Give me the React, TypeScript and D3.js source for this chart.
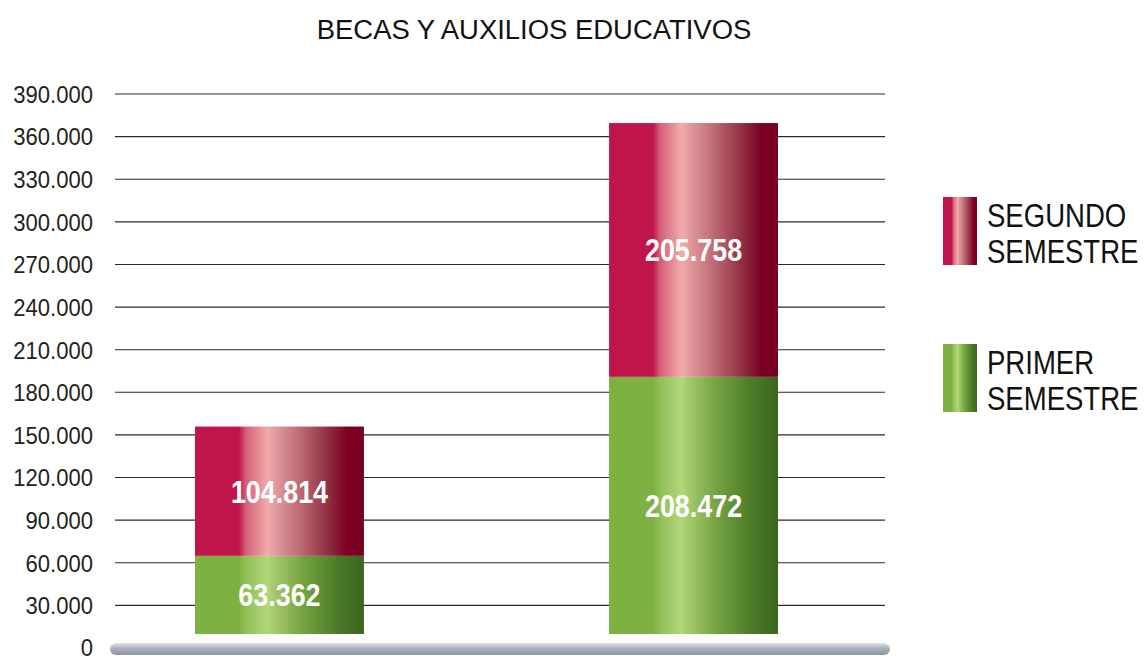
import React, { useEffect, useRef } from "react";
import * as d3 from "d3";

// ===== Data =====
const categories = ["Grupo 1", "Grupo 2"];
const primerSemestre = [63362, 208472];
const segundoSemestre = [104814, 205758];
const yTicks = [0, 30000, 60000, 90000, 120000, 150000, 180000, 210000, 240000, 270000, 300000, 330000, 360000, 390000];
const title = "BECAS Y AUXILIOS EDUCATIVOS";
const legendItems = [
  { key: "segundo", lines: ["SEGUNDO", "SEMESTRE"] },
  { key: "primer", lines: ["PRIMER", "SEMESTRE"] },
];

const redStops = [
  [0, "#c0154a"], [0.26, "#c0154a"], [0.3, "#d35f78"], [0.43, "#f2abab"],
  [0.47, "#e39c9f"], [0.62, "#bd6b74"], [0.8, "#8e2a3e"], [0.9, "#7a0024"], [1, "#780022"],
];
const greenStops = [
  [0, "#7db141"], [0.26, "#7db141"], [0.3, "#90bf56"], [0.43, "#b2d67b"],
  [0.47, "#a3c96c"], [0.65, "#72a03e"], [0.85, "#4a7a28"], [1, "#3a6520"],
];

const FONT = "'Liberation Sans', Arial, Helvetica, sans-serif";
const locale = d3.formatLocale({ decimal: ",", thousands: ".", grouping: [3], currency: ["$", ""] });
const fmt = locale.format(",d");

const App = () => {
  const ref = useRef<SVGSVGElement | null>(null);

  useEffect(() => {
    if (!ref.current) return;
    const svg = d3.select(ref.current);
    svg.selectAll("*").remove();

    // back wall scale (gridlines) and front plane scale (bars)
    const yBack = d3.scaleLinear().domain([0, 390000]).range([648, 94]);
    const yFront = d3.scaleLinear().domain([0, 400000]).range([634, 140.6]);
    const x = d3
      .scaleBand()
      .domain(categories)
      .range([72, 901])
      .paddingInner(0.592)
      .paddingOuter(0.297);

    const defs = svg.append("defs");
    const grad = (id: string, stops: (string | number)[][]) => {
      const g = defs.append("linearGradient").attr("id", id).attr("x1", 0).attr("x2", 1).attr("y1", 0).attr("y2", 0);
      stops.forEach(([o, c]) => g.append("stop").attr("offset", o as number).attr("stop-color", c as string));
    };
    grad("gRed", redStops);
    grad("gGreen", greenStops);
    const floor = defs.append("linearGradient").attr("id", "gFloor").attr("x1", 0).attr("x2", 0).attr("y1", 0).attr("y2", 1);
    floor.append("stop").attr("offset", 0).attr("stop-color", "#dfe2e8");
    floor.append("stop").attr("offset", 0.45).attr("stop-color", "#aab1be");
    floor.append("stop").attr("offset", 1).attr("stop-color", "#8c94a3");

    // ===== Title =====
    svg
      .append("text")
      .attr("transform", "translate(534,39) scale(0.98,1)")
      .attr("text-anchor", "middle")
      .style("font-family", FONT)
      .style("font-size", "28px")
      .attr("fill", "#111")
      .text(title);

    // ===== Gridlines + ticks =====
    yTicks.forEach(t => {
      if (t > 0) {
        svg
          .append("line")
          .attr("x1", 115)
          .attr("x2", 885)
          .attr("y1", yBack(t))
          .attr("y2", yBack(t))
          .attr("stroke", "#2a2a2a")
          .attr("stroke-width", 1.1);
      }
      svg
        .append("text")
        .attr("transform", `translate(93,${yBack(t)}) scale(0.9,1)`)
        .attr("dy", t === 0 ? "0.32em" : "0.36em")
        .attr("text-anchor", "end")
        .style("font-family", FONT)
        .style("font-size", "24.5px")
        .attr("fill", "#231f20")
        .text(fmt(t));
    });

    // floor
    svg
      .append("rect")
      .attr("x", 110)
      .attr("y", 643)
      .attr("width", 780)
      .attr("height", 12)
      .attr("rx", 6)
      .attr("fill", "url(#gFloor)");

    // ===== Stacked bars =====
    categories.forEach((c, i) => {
      const segs = [
        { v0: 0, v1: primerSemestre[i], fill: "url(#gGreen)" },
        { v0: primerSemestre[i], v1: primerSemestre[i] + segundoSemestre[i], fill: "url(#gRed)" },
      ];
      segs.forEach(s => {
        const y0 = yFront(s.v0);
        const y1 = yFront(s.v1);
        svg
          .append("rect")
          .attr("x", x(c)!)
          .attr("y", y1)
          .attr("width", x.bandwidth())
          .attr("height", y0 - y1)
          .attr("fill", s.fill);
        svg
          .append("text")
          .attr("transform", `translate(${x(c)! + x.bandwidth() / 2},${(y0 + y1) / 2}) scale(0.84,1)`)
          .attr("dy", "0.36em")
          .attr("text-anchor", "middle")
          .style("font-family", FONT)
          .style("font-size", "32px")
          .style("font-weight", "bold")
          .attr("fill", "#fff")
          .text(fmt(s.v1 - s.v0));
      });
    });

    // ===== Legend =====
    legendItems.forEach((item, i) => {
      const top = i === 0 ? 197 : 344;
      svg
        .append("rect")
        .attr("x", 943)
        .attr("y", top)
        .attr("width", 34)
        .attr("height", 68)
        .attr("fill", item.key === "segundo" ? "url(#gRed)" : "url(#gGreen)");
      item.lines.forEach((ln, j) => {
        svg
          .append("text")
          .attr("transform", `translate(987,${top + 30 + j * 36}) scale(0.81,1)`)
          .style("font-family", FONT)
          .style("font-size", "34px")
          .attr("fill", "#111")
          .text(ln);
      });
    });
  }, []);

  return (
    <div style={{ position: "absolute", left: 0, top: 0, background: "#fff" }}>
      <svg ref={ref} width={1148} height={658} style={{ display: "block" }} />
    </div>
  );
};

export default App;
